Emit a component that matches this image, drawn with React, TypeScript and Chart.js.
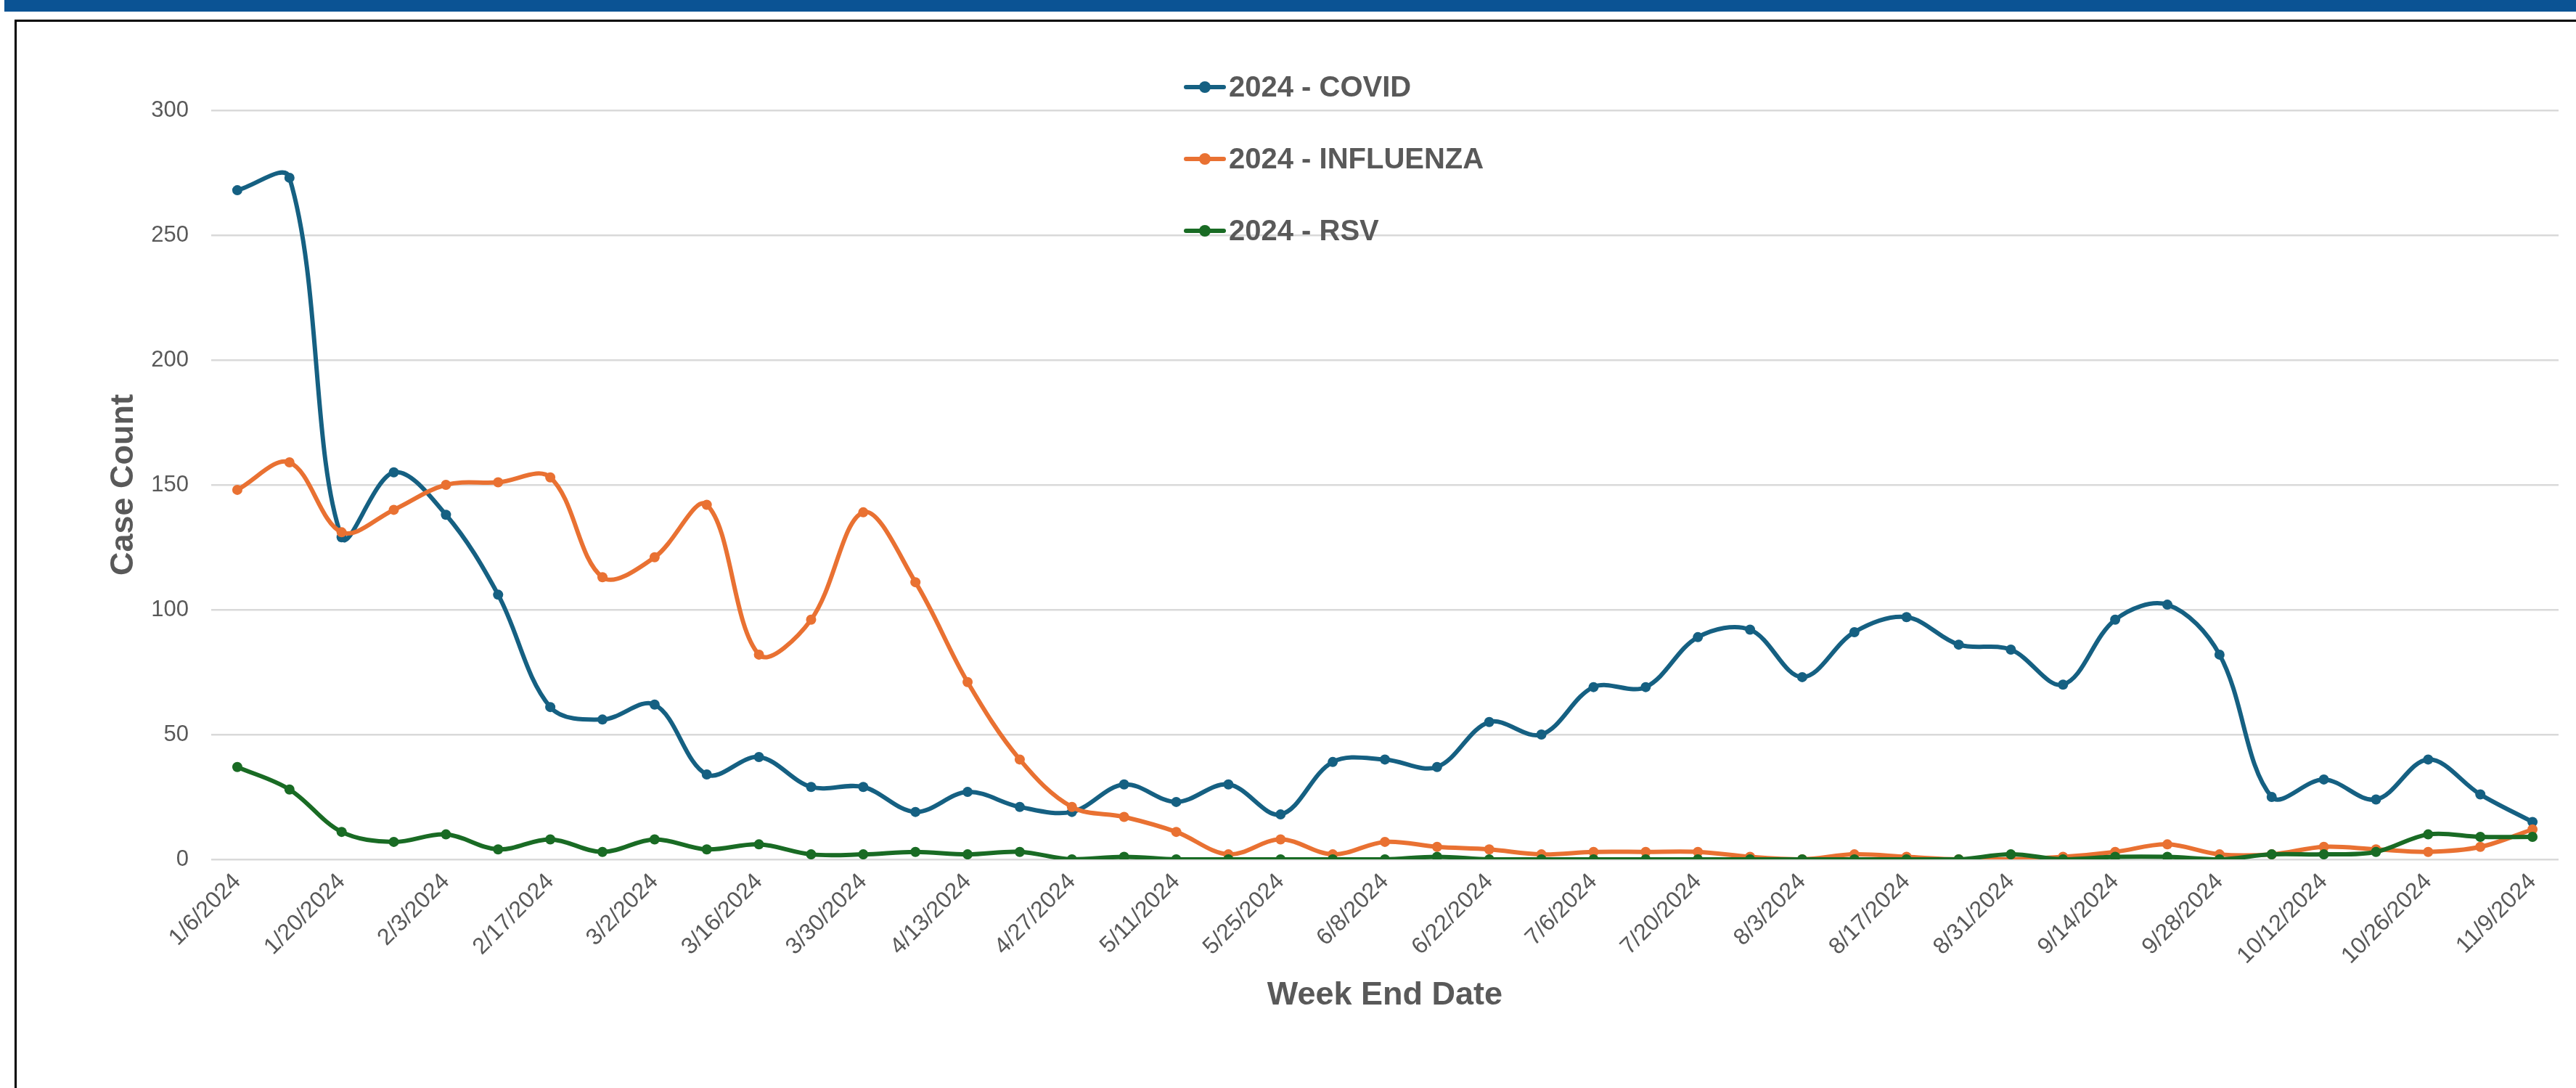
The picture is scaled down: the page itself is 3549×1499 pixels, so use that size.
import React, { useEffect, useRef } from "react";
import { Chart, registerables } from "chart.js";

Chart.register(...registerables);

// ---- Data ----
const weekEndDates = [
  "1/6/2024", "1/13/2024", "1/20/2024", "1/27/2024", "2/3/2024", "2/10/2024", "2/17/2024", "2/24/2024",
  "3/2/2024", "3/9/2024", "3/16/2024", "3/23/2024", "3/30/2024", "4/6/2024", "4/13/2024", "4/20/2024",
  "4/27/2024", "5/4/2024", "5/11/2024", "5/18/2024", "5/25/2024", "6/1/2024", "6/8/2024", "6/15/2024",
  "6/22/2024", "6/29/2024", "7/6/2024", "7/13/2024", "7/20/2024", "7/27/2024", "8/3/2024", "8/10/2024",
  "8/17/2024", "8/24/2024", "8/31/2024", "9/7/2024", "9/14/2024", "9/21/2024", "9/28/2024", "10/5/2024",
  "10/12/2024", "10/19/2024", "10/26/2024", "11/2/2024", "11/9/2024",
];

const covidCases = [
  268, 273, 129, 155, 138, 106, 61, 56, 62, 34, 41, 29, 29, 19, 27, 21, 19, 30, 23, 30, 18, 39, 40,
  37, 55, 50, 69, 69, 89, 92, 73, 91, 97, 86, 84, 70, 96, 102, 82, 25, 32, 24, 40, 26, 15,
];

const influenzaCases = [
  148, 159, 131, 140, 150, 151, 153, 113, 121, 142, 82, 96, 139, 111, 71, 40, 21, 17, 11, 2, 8, 2, 7,
  5, 4, 2, 3, 3, 3, 1, 0, 2, 1, 0, 0, 1, 3, 6, 2, 2, 5, 4, 3, 5, 12,
];

const rsvCases = [
  37, 28, 11, 7, 10, 4, 8, 3, 8, 4, 6, 2, 2, 3, 2, 3, 0, 1, 0, 0, 0, 0, 0, 1, 0, 0, 0, 0, 0, 0, 0,
  0, 0, 0, 2, 0, 1, 1, 0, 2, 2, 3, 10, 9, 9,
];

const yTickValues = [0, 50, 100, 150, 200, 250, 300];
const seriesLabels = ["2024 - COVID", "2024 - INFLUENZA", "2024 - RSV"];
const seriesColors = ["#156082", "#E97132", "#196B24"];

// ---- Styles ----
const W = 3549;
const H = 1499;
const FONT = "'Liberation Sans', Arial, sans-serif";
const TEXT = "#595959";

const LEGEND_X_LINE0 = 1634;
const LEGEND_X_LINE1 = 1686;
const LEGEND_X_MARK = 1660;
const LEGEND_X_TEXT = 1693;
const LEGEND_Y0 = 120;
const LEGEND_DY = 99;

const legendPlugin = {
  id: "stackedLegend",
  afterDraw(chart: any) {
    const ctx = chart.ctx;
    ctx.save();
    chart.data.datasets.forEach((ds: any, i: number) => {
      const y = LEGEND_Y0 + i * LEGEND_DY;
      ctx.strokeStyle = ds.borderColor;
      ctx.lineWidth = 6;
      ctx.lineCap = "round";
      ctx.beginPath();
      ctx.moveTo(LEGEND_X_LINE0, y);
      ctx.lineTo(LEGEND_X_LINE1, y);
      ctx.stroke();
      ctx.fillStyle = ds.borderColor;
      ctx.beginPath();
      ctx.arc(LEGEND_X_MARK, y, 8, 0, Math.PI * 2);
      ctx.fill();
      ctx.fillStyle = TEXT;
      ctx.font = `bold 40px ${FONT}`;
      ctx.textBaseline = "middle";
      ctx.textAlign = "left";
      ctx.fillText(ds.label, LEGEND_X_TEXT, y + 2);
    });
    ctx.restore();
  },
};

export default function App() {
  const canvasRef = useRef<HTMLCanvasElement | null>(null);

  useEffect(() => {
    if (!canvasRef.current) return;
    const seriesData = [covidCases, influenzaCases, rsvCases];
    const chart = new Chart(canvasRef.current, {
      type: "line",
      data: {
        labels: weekEndDates,
        datasets: seriesData.map((d, i) => ({
          label: seriesLabels[i],
          data: d,
          borderColor: seriesColors[i],
          backgroundColor: seriesColors[i],
          pointBackgroundColor: seriesColors[i],
          pointBorderColor: seriesColors[i],
          borderWidth: 6,
          pointRadius: 7,
          pointBorderWidth: 0,
          tension: 0.35,
          fill: false,
          order: 3 - i,
        })),
      },
      options: {
        responsive: false,
        animation: false,
        devicePixelRatio: 1,
        layout: { padding: { left: 140, right: 24, top: 152, bottom: 0 } },
        plugins: {
          legend: { display: false },
          tooltip: { enabled: false },
          title: { display: false },
        },
        scales: {
          x: {
            type: "category",
            offset: true,
            grid: { display: false, drawTicks: false },
            border: { display: false },
            ticks: {
              autoSkip: false,
              maxRotation: 45,
              minRotation: 45,
              color: TEXT,
              font: { family: FONT, size: 32 },
              padding: 12,
              callback: (_v: any, i: number) => (i % 2 === 0 ? weekEndDates[i] : ""),
            },
            title: {
              display: true,
              text: "Week End Date",
              color: TEXT,
              font: { family: FONT, size: 45, weight: "bold" },
              padding: { top: 0, bottom: 100 },
            },
            afterFit: (s: any) => {
              s.height = 315;
            },
          },
          y: {
            min: 0,
            max: 300,
            grid: { color: "#D9D9D9", lineWidth: 2.5, drawTicks: false },
            border: { display: false },
            ticks: { color: TEXT, font: { family: FONT, size: 31 }, padding: 31 },
            afterBuildTicks: (s: any) => {
              s.ticks = yTickValues.map((v) => ({ value: v }));
            },
            title: {
              display: true,
              text: "Case Count",
              color: TEXT,
              font: { family: FONT, size: 45, weight: "bold" },
              padding: { top: 4, bottom: 0 },
            },
            afterFit: (s: any) => {
              s.width = 151;
            },
          },
        },
      } as any,
      plugins: [legendPlugin],
    });
    return () => chart.destroy();
  }, []);

  return (
    <div
      style={{
        position: "fixed",
        left: 0,
        top: 0,
        width: W,
        height: H,
        background: "#ffffff",
        overflow: "hidden",
      }}
    >
      <div style={{ position: "absolute", left: 6, top: 0, width: W - 6, height: 16, background: "#0B5394" }} />
      <div
        style={{
          position: "absolute",
          left: 20,
          top: 27,
          width: W,
          height: H,
          borderLeft: "3px solid #000",
          borderTop: "3px solid #000",
          boxSizing: "border-box",
        }}
      />
      <canvas
        ref={canvasRef}
        width={W}
        height={H}
        style={{ position: "absolute", left: 0, top: 0, width: W, height: H }}
      />
    </div>
  );
}
